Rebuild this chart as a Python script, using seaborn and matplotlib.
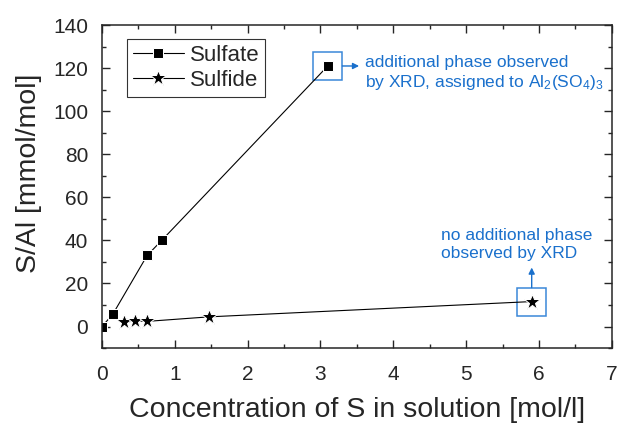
import seaborn as sns
import matplotlib.pyplot as plt
import matplotlib.ticker as ticker
from matplotlib.patches import Rectangle

sns.set_style("ticks")
plt.rcParams["font.family"] = ["Liberation Sans", "DejaVu Sans"]
plt.rcParams["mathtext.fontset"] = "custom"
plt.rcParams["mathtext.rm"] = "Liberation Sans"
plt.rcParams["mathtext.it"] = "Liberation Sans"

# data
sulfate_x = [0.0, 0.15, 0.62, 0.82, 3.1]
sulfate_y = [0.0, 5.8, 33.0, 40.0, 121.0]
sulfide_x = [0.3, 0.46, 0.62, 1.47, 5.9]
sulfide_y = [2.0, 2.6, 2.4, 4.5, 11.6]

blue = "#1a70cc"
box_blue = "#3a88d8"

fig = plt.figure(figsize=(6.18, 4.25), dpi=100)
ax = fig.add_axes([0.165, 0.181, 0.825, 0.760])

sns.lineplot(x=sulfate_x, y=sulfate_y, sort=False, marker="s", markersize=7,
             color="black", linewidth=0.8, label="Sulfate", ax=ax)
sns.lineplot(x=sulfide_x, y=sulfide_y, sort=False, marker="*", markersize=12,
             color="black", linewidth=0.8, label="Sulfide", ax=ax)

ax.set_xlim(0, 7)
ax.set_ylim(-10, 140)
ax.xaxis.set_major_locator(ticker.MultipleLocator(1))
ax.xaxis.set_minor_locator(ticker.MultipleLocator(0.5))
ax.yaxis.set_major_locator(ticker.MultipleLocator(20))
ax.yaxis.set_minor_locator(ticker.MultipleLocator(10))
ax.tick_params(which="both", direction="in", top=True, right=True, labelsize=15)
ax.tick_params(which="major", length=6, width=1)
ax.tick_params(which="minor", length=3, width=1)
ax.tick_params(axis="x", pad=12)
ax.tick_params(axis="y", pad=10)
for s in ax.spines.values():
    s.set_linewidth(1.1)

ax.set_xlabel("Concentration of S in solution [mol/l]", fontsize=20.5)
ax.set_ylabel("S/Al [mmol/mol]", fontsize=20.5)
ax.xaxis.set_label_coords(0.501, -0.152)
ax.yaxis.set_label_coords(-0.118, 0.54)

leg = ax.legend(loc="upper left", bbox_to_anchor=(0.049, 0.957), fontsize=16,
                frameon=True, fancybox=False, edgecolor="black",
                handlelength=2.3, handletextpad=0.3, borderpad=0.25,
                labelspacing=0.2, borderaxespad=0)
leg.get_frame().set_linewidth(0.8)

# highlight boxes and notes
bw, bh = 0.4, 13
ax.add_patch(Rectangle((sulfate_x[-1] - bw / 2, sulfate_y[-1] - bh / 2), bw, bh,
                       fill=False, edgecolor=box_blue, linewidth=1.1))
ax.add_patch(Rectangle((sulfide_x[-1] - bw / 2, sulfide_y[-1] - bh / 2), bw, bh,
                       fill=False, edgecolor=box_blue, linewidth=1.1))

ax.annotate("", xy=(sulfate_x[-1] + bw / 2 + 0.23, sulfate_y[-1]),
            xytext=(sulfate_x[-1] + bw / 2, sulfate_y[-1]),
            arrowprops=dict(arrowstyle="-|>", color=blue, lw=1, mutation_scale=9,
                            shrinkA=0, shrinkB=0))
ax.text(3.61, 117.5, "additional phase observed\nby XRD, assigned to Al$_2$(SO$_4$)$_3$",
        color=blue, fontsize=12.5, va="center", ha="left", linespacing=1.15)

ax.annotate("", xy=(sulfide_x[-1], sulfide_y[-1] + bh / 2 + 9.3),
            xytext=(sulfide_x[-1], sulfide_y[-1] + bh / 2),
            arrowprops=dict(arrowstyle="-|>", color=blue, lw=1, mutation_scale=9,
                            shrinkA=0, shrinkB=0))
ax.text(4.65, 38.0, "no additional phase\nobserved by XRD",
        color=blue, fontsize=12.5, va="center", ha="left", linespacing=1.25)

plt.savefig("out.png", dpi=100)
